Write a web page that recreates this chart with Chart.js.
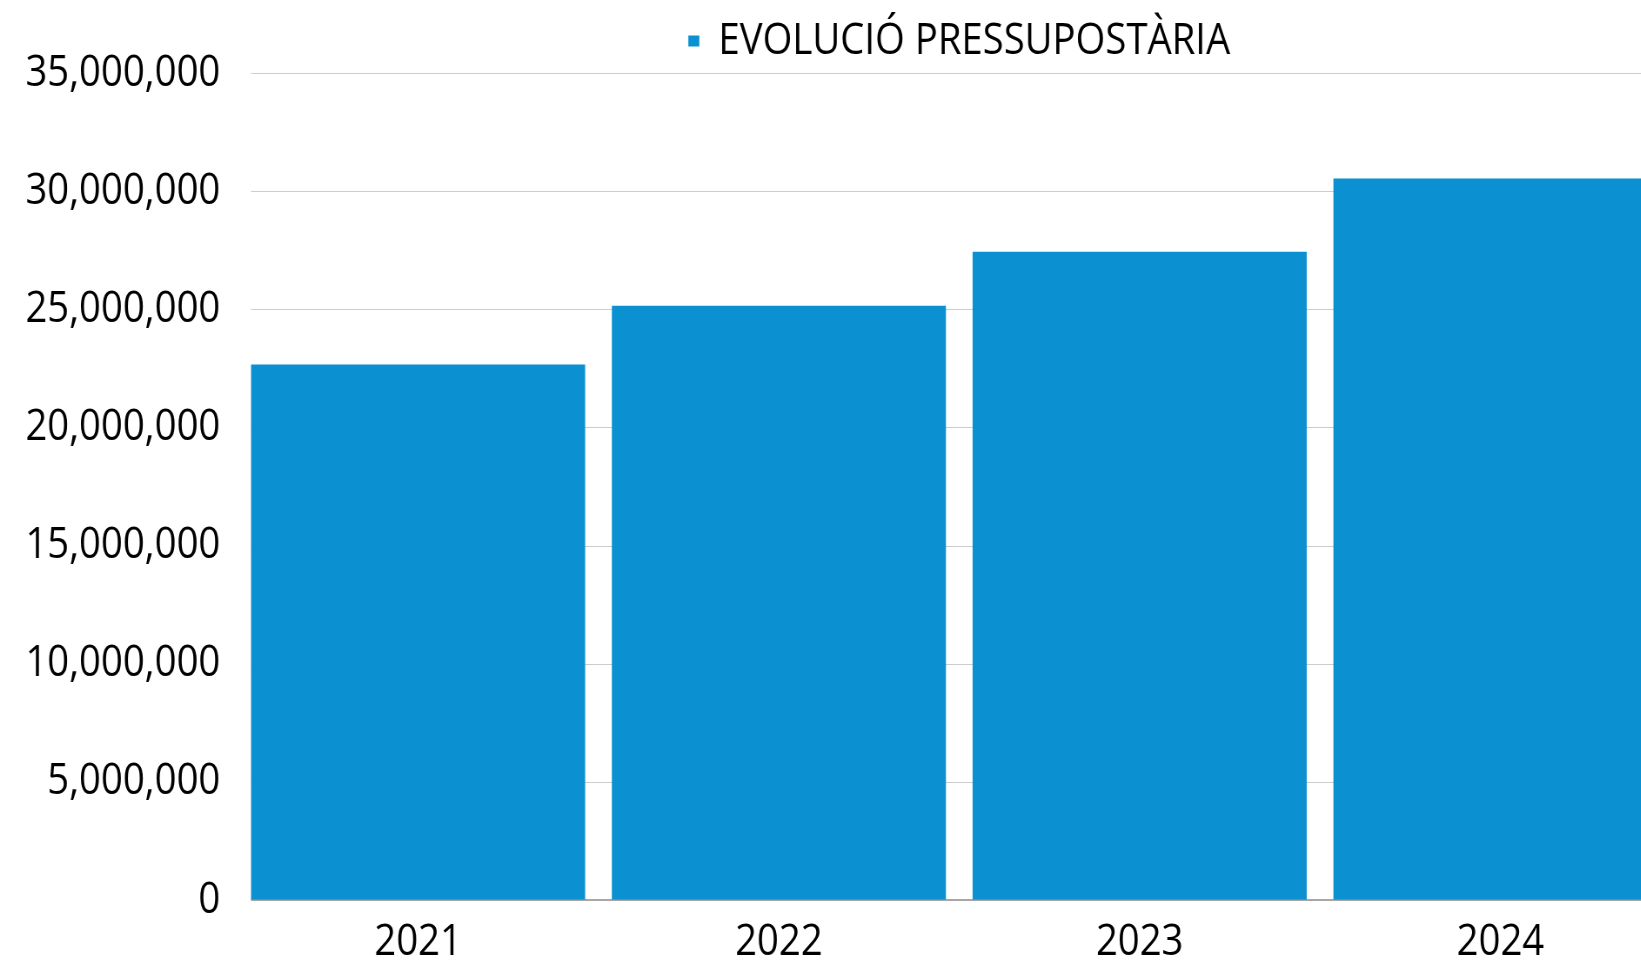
<!DOCTYPE html>
<html><head><meta charset="utf-8">
<script src="https://cdn.jsdelivr.net/npm/chart.js@4/dist/chart.umd.min.js"></script>
<style>
html,body{margin:0;padding:0;background:#fff;overflow:hidden;width:1641px;height:962px}
#wrap{width:1960px;height:962px;transform:scaleX(0.87);transform-origin:0 0}
canvas{display:block}
</style>
</head><body>
<div id="wrap"><canvas id="c" width="1960" height="962" style="width:1960px;height:962px"></canvas></div>
<script>
const categories = ['2021', '2022', '2023', '2024'];
const budgetValues = [22660000, 25150000, 27440000, 30530000];
const seriesLabel = 'EVOLUCIÓ PRESSUPOSTÀRIA';
const yMax = 35000000;
const yStep = 5000000;

const FONT = "'Open Sans', 'Noto Sans', sans-serif";
const BAR = '#0B91D1';

const gridPlugin = {
  id: 'gridFromBars',
  beforeDatasetsDraw(chart) {
    const {ctx, chartArea, scales} = chart;
    const first = chart.getDatasetMeta(0).data[0];
    const x0 = first.x - first.width / 2;
    ctx.save();
    ctx.strokeStyle = '#cccccc';
    ctx.lineWidth = 1.2;
    scales.y.ticks.forEach(t => {
      if (t.value === 0) return;
      const y = Math.round(scales.y.getPixelForValue(t.value)) + 0.5;
      ctx.beginPath();
      ctx.moveTo(x0, y);
      ctx.lineTo(chartArea.right, y);
      ctx.stroke();
    });
    ctx.restore();
  },
  afterDatasetsDraw(chart) {
    const {ctx, chartArea, scales} = chart;
    const first = chart.getDatasetMeta(0).data[0];
    const x0 = first.x - first.width / 2;
    ctx.save();
    ctx.strokeStyle = '#8a8a8a';
    ctx.lineWidth = 1.5;
    const y = scales.y.getPixelForValue(0);
    ctx.beginPath();
    ctx.moveTo(x0, y);
    ctx.lineTo(chartArea.right, y);
    ctx.stroke();
    ctx.restore();
  }
};

new Chart(document.getElementById('c'), {
  type: 'bar',
  data: {
    labels: categories,
    datasets: [{
      label: seriesLabel,
      data: budgetValues,
      backgroundColor: BAR,
      borderWidth: 0,
      categoryPercentage: 1,
      barPercentage: 0.926
    }]
  },
  options: {
    responsive: false,
    animation: false,
    layout: { padding: { top: 0, right: 28, bottom: 0, left: 0 } },
    plugins: {
      legend: {
        display: true,
        position: 'top',
        fullSize: false,
        labels: {
          font: { family: FONT, size: 44 },
          color: '#000',
          boxWidth: 12.6,
          boxHeight: 11,
          padding: 19
        }
      },
      tooltip: { enabled: false }
    },
    scales: {
      x: {
        grid: { display: false, drawTicks: false },
        border: { display: false },
        ticks: { font: { family: FONT, size: 44 }, color: '#000', padding: 16 },
        afterFit: s => { s.height = 62; }
      },
      y: {
        min: 0,
        max: yMax,
        grid: { display: false, drawTicks: false },
        border: { display: false },
        ticks: {
          stepSize: yStep,
          font: { family: FONT, size: 44 },
          color: '#000',
          padding: 20,
          callback: v => Number(v).toLocaleString('en-US')
        },
        afterFit: s => { s.width = 273.2; }
      }
    }
  },
  plugins: [gridPlugin]
});
</script>
</body></html>
